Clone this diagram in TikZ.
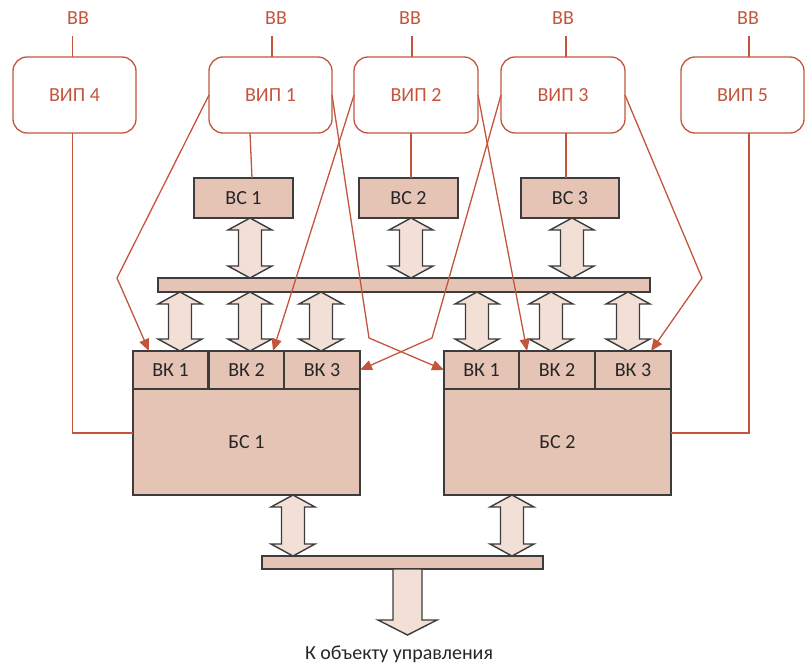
\documentclass[tikz,border=0pt]{standalone}
\usepackage{fontspec}
\setmainfont{Carlito}
\usetikzlibrary{arrows.meta,calc}
\definecolor{rust}{RGB}{195,85,60}
\definecolor{edge}{RGB}{60,60,60}
\definecolor{blockfill}{RGB}{229,196,181}
\definecolor{arrowfill}{RGB}{242,223,213}
\definecolor{ink}{RGB}{38,38,38}
\newcommand\lbl{\fontsize{20}{23}\selectfont}
% vertical two-headed block arrow at x = #1, from the bottom of #2 to the top of #3
\newcommand\biarrow[3]{%
  \path[barrow] let \p1=(#2), \p2=(#3) in
    (#1pt,\y1) -- (#1pt+22pt,\y1-12pt) -- (#1pt+11.5pt,\y1-12pt)
    -- (#1pt+11.5pt,\y2+12pt) -- (#1pt+22pt,\y2+12pt) -- (#1pt,\y2)
    -- (#1pt-22pt,\y2+12pt) -- (#1pt-11.5pt,\y2+12pt)
    -- (#1pt-11.5pt,\y1-12pt) -- (#1pt-22pt,\y1-12pt) -- cycle;}
\begin{document}
\begin{tikzpicture}[x=1pt,y=-1pt,
  vip/.style={draw=rust, line width=1.3pt, rounded corners=14pt,
    minimum width=123pt, minimum height=76pt, inner sep=0pt, outer sep=0pt,
    text=rust, font=\lbl},
  block/.style={draw=edge, fill=blockfill, line width=1.4pt, inner sep=0pt,
    outer sep=0pt, text=ink, font=\lbl},
  barrow/.style={draw=edge, fill=arrowfill, line width=1.4pt, line join=miter},
  wire/.style={draw=rust, line width=1.3pt},
  link/.style={wire, -{Triangle[length=12pt,width=10pt]}},
  supply/.style={text=rust, font=\lbl, inner sep=0pt}]
\useasboundingbox (0,0) rectangle (805,666);

% supply labels
\node[supply] (vv4) at (78,18) {ВВ};
\node[supply] (vv1) at (276,18) {ВВ};
\node[supply] (vv2) at (410,18) {ВВ};
\node[supply] (vv3) at (563,18) {ВВ};
\node[supply] (vv5) at (748,18) {ВВ};

% power units
\node[vip] (vip4) at (74.5,95) {ВИП 4};
\node[vip] (vip1) at (270.5,95) {ВИП 1};
\node[vip, minimum width=124pt] (vip2) at (416,95) {ВИП 2};
\node[vip, minimum width=124pt] (vip3) at (563,95) {ВИП 3};
\node[vip] (vip5) at (742.5,95) {ВИП 5};

% computing units
\node[block, minimum width=99pt, minimum height=40pt] (vs1) at (243.5,198) {ВС 1};
\node[block, minimum width=99pt, minimum height=40pt] (vs2) at (408.5,198) {ВС 2};
\node[block, minimum width=98pt, minimum height=40pt] (vs3) at (570,198) {ВС 3};

% upper bus
\node[block, minimum width=492pt, minimum height=14pt] (bus1) at (404,285) {};

% switching blocks with their channel cells
\node[block, minimum width=227pt, minimum height=106pt] (bs1) at (246.5,442) {БС 1};
\node[block, minimum width=227pt, minimum height=106pt] (bs2) at (557.5,442) {БС 2};
\node[block, minimum width=75pt, minimum height=38pt] (ka1) at (170.5,370) {ВК 1};
\node[block, minimum width=75pt, minimum height=38pt] (ka2) at (246.5,370) {ВК 2};
\node[block, minimum width=76pt, minimum height=38pt] (ka3) at (322,370) {ВК 3};
\node[block, minimum width=75pt, minimum height=38pt] (kb1) at (481.5,370) {ВК 1};
\node[block, minimum width=76pt, minimum height=38pt] (kb2) at (557,370) {ВК 2};
\node[block, minimum width=76pt, minimum height=38pt] (kb3) at (633,370) {ВК 3};

% lower bus and output
\node[block, minimum width=281pt, minimum height=13pt] (bus2) at (402.5,562.5) {};
\node[text=ink, font=\lbl, inner sep=0pt] (obj) at (399,654) {К объекту управления};
\coordinate (out) at (407.5,635);

% block arrows
\biarrow{250}{vs1.south}{bus1.north}
\biarrow{411}{vs2.south}{bus1.north}
\biarrow{572}{vs3.south}{bus1.north}
\biarrow{180}{bus1.south}{ka1.north}
\biarrow{250}{bus1.south}{ka2.north}
\biarrow{321}{bus1.south}{ka3.north}
\biarrow{477}{bus1.south}{kb1.north}
\biarrow{551}{bus1.south}{kb2.north}
\biarrow{628}{bus1.south}{kb3.north}
\biarrow{293}{bs1.south}{bus2.north}
\biarrow{512}{bs2.south}{bus2.north}
\path[barrow] let \p1=(bus2.south), \p2=(out) in
  (393pt,\y1) -- (393pt,\y2+15pt) -- (378pt,\y2+15pt) -- (\x2,\y2)
  -- (437pt,\y2+15pt) -- (422pt,\y2+15pt) -- (422pt,\y1) -- cycle;

% supply feeds
\draw[wire] (72.5,36) -- (72.5,0 |- vip4.north);
\draw[wire] (272,36) -- (272,0 |- vip1.north);
\draw[wire] (412,36) -- (412,0 |- vip2.north);
\draw[wire] (566,36) -- (566,0 |- vip3.north);
\draw[wire] (749,36) -- (749,0 |- vip5.north);

% power to computing units
\draw[wire] (250,0 |- vip1.south) -- (252,0 |- vs1.north);
\draw[wire] (411,0 |- vip2.south) -- (411,0 |- vs2.north);
\draw[wire] (566,0 |- vip3.south) -- (566,0 |- vs3.north);

% power to switching blocks
\draw[wire] (72.5,0 |- vip4.south) -- (72.5,433) -- (bs1.west |- 0,433);
\draw[wire] (749,0 |- vip5.south) -- (749,433) -- (bs2.east |- 0,433);

% cross power feeds to the channel cells
\draw[link] (vip1.west) -- (117,278) -- ($(ka1.north)+(-21.5,0)$);
\draw[link] (vip1.east) -- (369,338) -- (kb1.west);
\draw[link] (vip2.west) -- ($(ka2.north)+(26.5,0)$);
\draw[link] (vip2.east) -- ($(kb2.north)+(-30,0)$);
\draw[link] (vip3.west) -- (432,338) -- (ka3.east);
\draw[link] (vip3.east) -- (702,278) -- ($(kb3.north)+(18,0)$);
\end{tikzpicture}
\end{document}
